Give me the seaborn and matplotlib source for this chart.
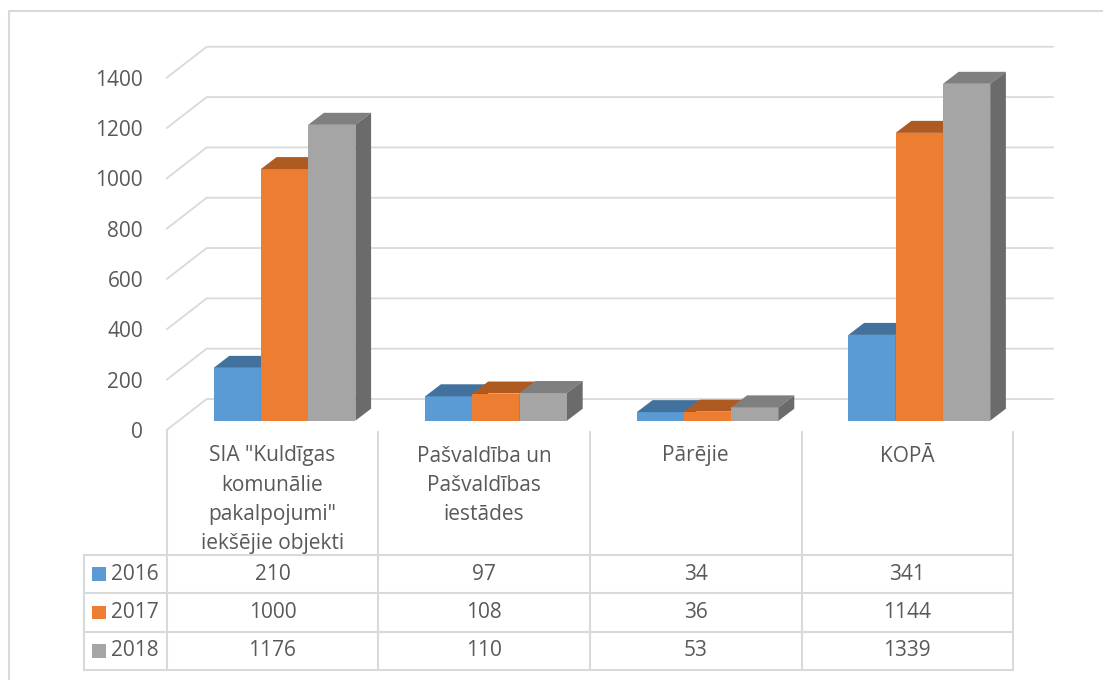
import numpy as np
import pandas as pd
import matplotlib
matplotlib.use("Agg")
import matplotlib.pyplot as plt
from matplotlib.patches import Polygon
import seaborn as sns

# Data
categories = ['SIA "Kuldīgas komunālie pakalpojumi" iekšējie objekti',
              'Pašvaldība un Pašvaldības iestādes', 'Pārējie', 'KOPĀ']
header_labels = ['SIA "Kuldīgas\nkomunālie\npakalpojumi"\niekšējie objekti',
                 'Pašvaldība un\nPašvaldības\niestādes', 'Pārējie', 'KOPĀ']
years = ['2016', '2017', '2018']
values_2016 = [210, 97, 34, 341]
values_2017 = [1000, 108, 36, 1144]
values_2018 = [1176, 110, 53, 1339]
y_ticks = [0, 200, 400, 600, 800, 1000, 1200, 1400]

colors = ['#5B9BD5', '#ED7D31', '#A5A5A5']
top_colors = ['#41719C', '#AE5A21', '#7F7F7F']
side_colors = ['#3B6890', '#9E521E', '#6B6B6B']
text_color = '#595959'
line_color = '#D9D9D9'

rows = []
for year, vals in zip(years, [values_2016, values_2017, values_2018]):
    for cat, v in zip(categories, vals):
        rows.append({'Kategorija': cat, 'Gads': year, 'Vērtība': v})
df = pd.DataFrame(rows)

sns.set_theme(style='white')
plt.rcParams['font.family'] = ['Open Sans', 'DejaVu Sans']
FS = 15

# pixel geometry of the chart
W, H = 1103, 680
x_front0 = 166.7      # left edge of the floor front
col_w = 211.6         # width of one category column
y0_px = 430           # floor front (value 0)
px_per_unit = 0.2516  # pixels per value unit
x_right_px, y_top_px = 1060, 40

fig = plt.figure(figsize=(W / 100, H / 100), dpi=100)
ax = fig.add_axes([x_front0 / W, (H - y0_px) / H,
                   (x_right_px - x_front0) / W, (y0_px - y_top_px) / H])
ax.set_facecolor('none')

sns.barplot(data=df, x='Kategorija', y='Vērtība', hue='Gads', order=categories,
            hue_order=years, palette=colors, saturation=1, width=0.67,
            linewidth=0, legend=False, ax=ax)

ax.set_xlim(-0.5, -0.5 + (x_right_px - x_front0) / col_w)
ax.set_ylim(0, (y0_px - y_top_px) / px_per_unit)

# depth offsets (data units)
wall_dx, wall_dy = 40 / col_w, 31 / px_per_unit
bar_dx, bar_dy = 12 / col_w, 9.3 / px_per_unit
deep_dx, deep_dy = 15.7 / col_w, 12 / px_per_unit

# back wall gridlines with the floor perspective
n = len(categories)
for v in y_ticks:
    ax.plot([-0.5, -0.5 + wall_dx, n - 0.5 + wall_dx],
            [v, v + wall_dy, v + wall_dy],
            color=line_color, lw=1.3, zorder=1, clip_on=False)

# turn the flat bars into boxes
for i, bar in enumerate(list(ax.patches)):
    k = i // n
    x0 = bar.get_x() + bar_dx
    w = bar.get_width()
    h = bar.get_height()
    bar.set_x(x0)
    bar.set_y(bar_dy)
    bar.set_zorder(3 + k * 0.1)
    y1 = bar_dy + h
    ax.add_patch(Polygon([(x0, y1), (x0 + w, y1), (x0 + w + deep_dx, y1 + deep_dy),
                          (x0 + deep_dx, y1 + deep_dy)], closed=True,
                         facecolor=top_colors[k], edgecolor='none', zorder=3.01 + k * 0.1))
    ax.add_patch(Polygon([(x0 + w, bar_dy), (x0 + w, y1), (x0 + w + deep_dx, y1 + deep_dy),
                          (x0 + w + deep_dx, bar_dy + deep_dy)], closed=True,
                         facecolor=side_colors[k], edgecolor='none', zorder=3.02 + k * 0.1))

ax.set_xticks([])
ax.set_yticks(y_ticks)
ax.set_yticklabels([str(t) for t in y_ticks])
ax.tick_params(axis='y', length=0, pad=17, labelsize=FS, labelcolor=text_color)
ax.set_xlabel('')
ax.set_ylabel('')
sns.despine(ax=ax, left=True, bottom=True)

# data table drawn in pixel coordinates
tax = fig.add_axes([0, 0, 1, 1])
tax.set_xlim(0, W)
tax.set_ylim(H, 0)
tax.axis('off')
tax.set_facecolor('none')

# chart area border
tax.plot([9, 9, W], [H, 11, 11], color=line_color, lw=1.5)

col_edges = [x_front0 + i * col_w for i in range(n + 1)]
row_edges = [555, 593.3, 631.7, 670]
label_left = 84

for y in row_edges:
    tax.plot([label_left, col_edges[-1]], [y, y], color=line_color, lw=1.5)
tax.plot([label_left, label_left], [row_edges[0], row_edges[-1]], color=line_color, lw=1.5)
tax.plot([col_edges[0], col_edges[0]], [y0_px, row_edges[-1]], color=line_color, lw=1.5)
for x in col_edges[1:]:
    tax.plot([x, x], [432, row_edges[-1]], color=line_color, lw=1.5)

for i, lab in enumerate(header_labels):
    tax.text((col_edges[i] + col_edges[i + 1]) / 2, 445.5, lab, ha='center', va='top',
             fontsize=FS, color=text_color, linespacing=1.52)

for r, (year, vals) in enumerate(zip(years, [values_2016, values_2017, values_2018])):
    yc = (row_edges[r] + row_edges[r + 1]) / 2
    tax.add_patch(plt.Rectangle((92, yc - 6.8), 13.6, 13.6, facecolor=colors[r],
                                edgecolor='none'))
    tax.text(111, yc, year, ha='left', va='center', fontsize=FS, color=text_color)
    for i, v in enumerate(vals):
        tax.text((col_edges[i] + col_edges[i + 1]) / 2, yc, str(v), ha='center',
                 va='center', fontsize=FS, color=text_color)

fig.savefig('out.png', dpi=100)
plt.close(fig)
